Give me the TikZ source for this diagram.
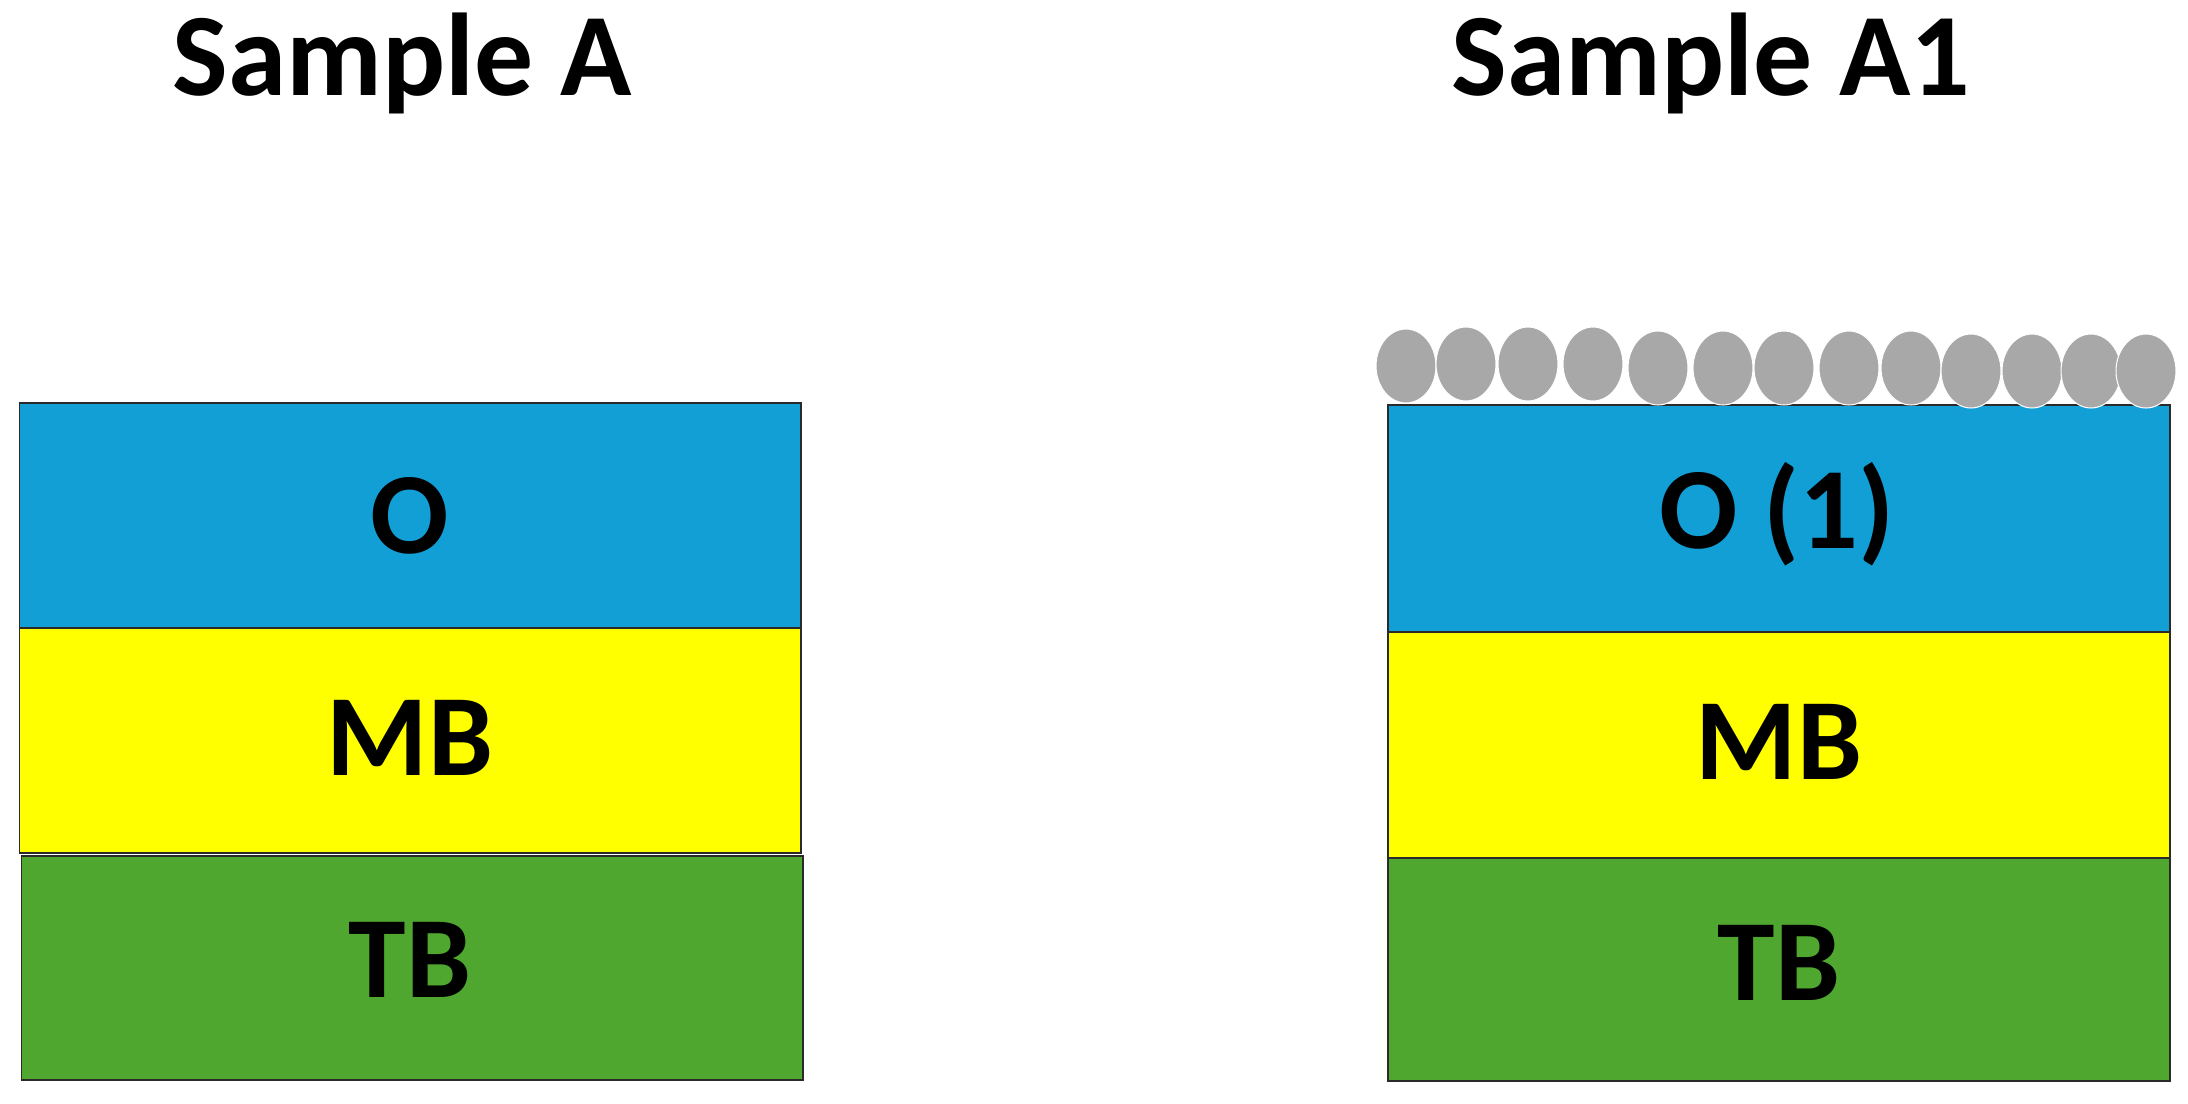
\documentclass[tikz,border=0pt]{standalone}
\usepackage{fontspec}
\setmainfont{Carlito}
\definecolor{oblue}{HTML}{119FD6}
\definecolor{mbyellow}{HTML}{FFFF00}
\definecolor{tbgreen}{HTML}{4FA72F}
\definecolor{pgray}{HTML}{A8A8A8}
\definecolor{edge}{HTML}{2A2A2A}
\begin{document}
\begin{tikzpicture}[x=0.02cm,y=-0.02cm,
  layer/.style={draw=edge,line width=1.1pt},
  lbl/.style={font=\fontsize{66}{79}\selectfont\bfseries,inner sep=0pt,anchor=center},
  ttl/.style={font=\fontsize{67}{80}\selectfont\bfseries,inner sep=0pt,anchor=base},
  particle/.style={fill=pgray,draw=white,line width=0.6pt}]
\useasboundingbox (0,0) rectangle (2188,1104);
\fill[white] (0,0) rectangle (2188,1104);
% titles
\node[ttl] (tA) at (402,96) {Sample A};
\node[ttl] (tA1) at (1711,96) {Sample A1};
% left stack
\draw[layer,fill=oblue] (19.5,403) rectangle (801,628);
\draw[layer,fill=mbyellow] (19.5,628) rectangle (801,853);
\draw[layer,fill=tbgreen] (21.5,856) rectangle (803,1080);
\node[lbl] (aO) at (410,516) {O};
\node[lbl] (aMB) at (410,738) {MB};
\node[lbl] (aTB) at (410,960) {TB};
% right stack
\draw[layer,fill=oblue] (1388,405) rectangle (2170,632);
\draw[layer,fill=mbyellow] (1388,632) rectangle (2170,858);
\draw[layer,fill=tbgreen] (1388,858) rectangle (2170,1081);
\node[lbl] (bO) at (1777,514) {O (1)};
\node[lbl] (bMB) at (1779,742) {MB};
\node[lbl] (bTB) at (1779,963) {TB};
% particles
\foreach \cx/\cy in {1406/366,1466/364,1528/364,1593/364,1658/368,1723/368,1784/368,1849/368,1911/368,1971/371,2032/371,2091/371,2146/371}
  \draw[particle] (\cx,\cy) ellipse [x radius=0.6cm, y radius=0.74cm];
\end{tikzpicture}
\end{document}
